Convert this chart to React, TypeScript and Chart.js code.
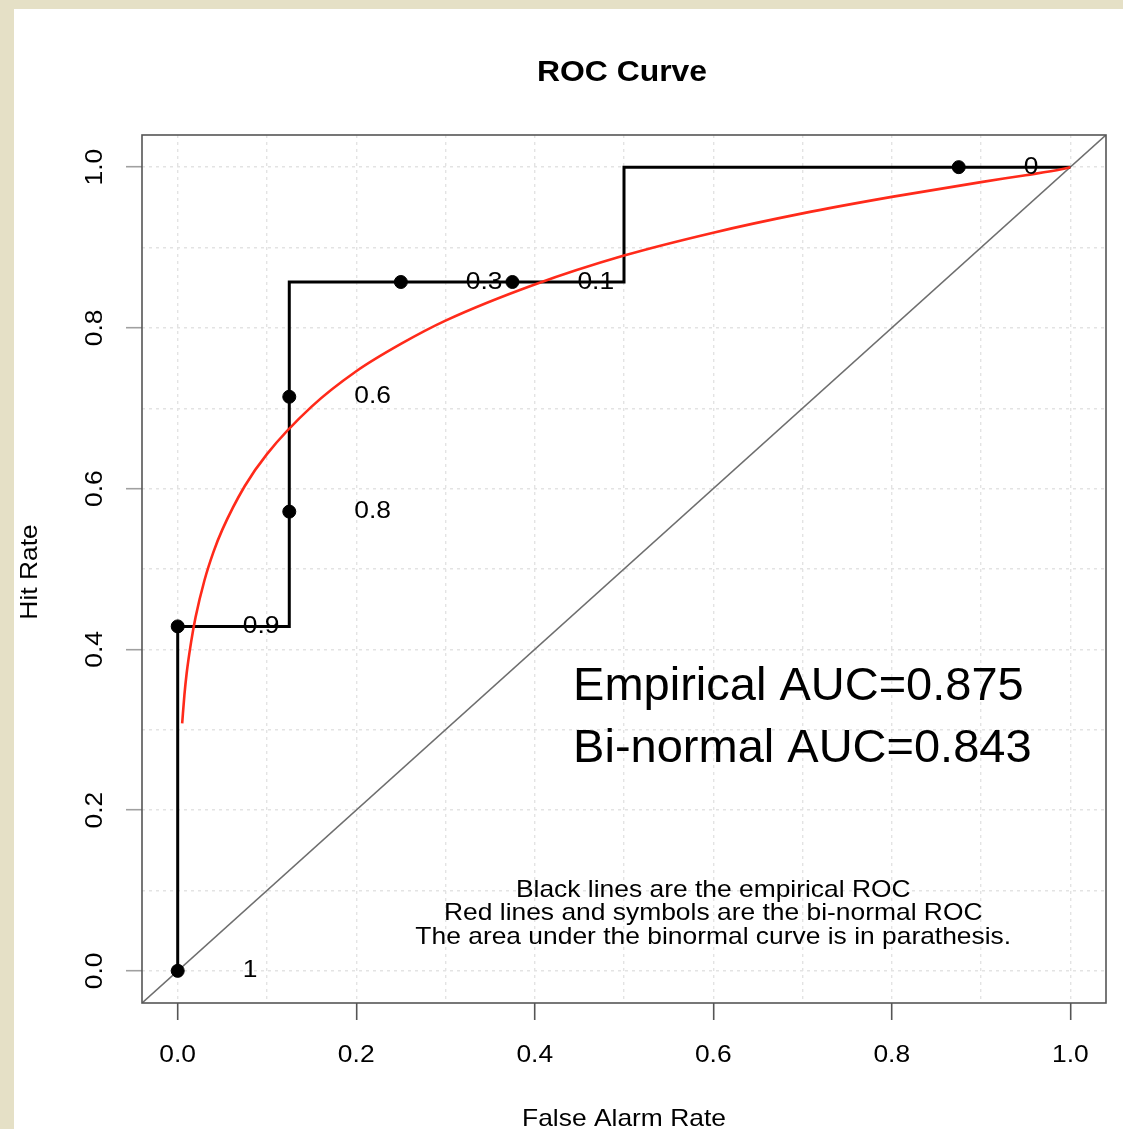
import React, { useEffect, useRef } from "react";
import { Chart, registerables } from "chart.js";

Chart.register(...registerables);

// ---- data ----
const AXIS_MIN = -0.04;
const AXIS_MAX = 1.04;
const tickValues = [0, 0.2, 0.4, 0.6, 0.8, 1.0];
const tickLabels = ["0.0", "0.2", "0.4", "0.6", "0.8", "1.0"];

// empirical ROC path (vertices of the step curve)
const empiricalFpr = [0, 0, 0.125, 0.125, 0.5, 0.5, 1.0];
const empiricalTpr = [0, 0.4286, 0.4286, 0.8571, 0.8571, 1.0, 1.0];

// threshold markers and their labels
const thresholdFpr = [0, 0, 0.125, 0.125, 0.25, 0.375, 0.875];
const thresholdTpr = [0, 0.4286, 0.5714, 0.7143, 0.8571, 0.8571, 1.0];
const thresholdLabels = ["1", "0.9", "0.8", "0.6", "0.3", "0.1", "0"];

// bi-normal ROC curve
const binormalFpr = [0.005, 0.0075, 0.01, 0.015, 0.02, 0.03, 0.04, 0.05, 0.075, 0.1, 0.15, 0.2, 0.25, 0.3, 0.4, 0.5, 0.6, 0.7, 0.8, 0.9, 0.95, 0.99, 1.0];
const binormalTpr = [0.308, 0.343, 0.37, 0.409, 0.44, 0.486, 0.521, 0.549, 0.603, 0.643, 0.702, 0.746, 0.78, 0.809, 0.854, 0.89, 0.9185, 0.9425, 0.963, 0.9814, 0.99, 0.9973, 1.0];

const chartTitle = "ROC Curve";
const xAxisTitle = "False Alarm Rate";
const yAxisTitle = "Hit Rate";
const noteLines = [
  "Black lines are the empirical ROC",
  "Red lines and symbols are the bi-normal ROC",
  "The area under the binormal curve is in parathesis.",
];
const aucLines = ["Empirical AUC=0.875", "Bi-normal AUC=0.843"];

const FONT = "'Liberation Sans', Arial, Helvetica, sans-serif";
const SX = 1.1;

function drawText(
  ctx: CanvasRenderingContext2D,
  text: string,
  x: number,
  y: number,
  font: string,
  align: CanvasTextAlign,
  sx = SX,
  rot = 0
) {
  ctx.save();
  ctx.translate(x, y);
  if (rot) ctx.rotate(rot);
  ctx.scale(sx, 1);
  ctx.font = font;
  ctx.textAlign = align;
  ctx.textBaseline = "middle";
  ctx.fillStyle = "#000";
  ctx.fillText(text, 0, 0);
  ctx.restore();
}

const isMajor = (v: number) => Math.round(v * 10) % 2 === 0;

const rocPlugin = {
  id: "rocDecor",
  beforeDraw(chart: any) {
    const ctx = chart.ctx as CanvasRenderingContext2D;
    ctx.save();
    ctx.fillStyle = "#e5e0c6";
    ctx.fillRect(0, 0, chart.width, chart.height);
    ctx.fillStyle = "#ffffff";
    ctx.fillRect(14, 9, chart.width - 14, chart.height - 9);
    ctx.restore();
  },
  afterDatasetsDraw(chart: any) {
    const ctx = chart.ctx as CanvasRenderingContext2D;
    const xs = chart.scales.x;
    const ys = chart.scales.y;
    const area = chart.chartArea;

    // threshold labels
    thresholdLabels.forEach((lab, i) => {
      const px = xs.getPixelForValue(thresholdFpr[i]) + 65;
      const py = ys.getPixelForValue(thresholdTpr[i]);
      drawText(ctx, lab, px, py, `24px ${FONT}`, "left");
    });

    // note text block
    const cx = xs.getPixelForValue(0.6);
    const cy = ys.getPixelForValue(0.071);
    noteLines.forEach((t, i) => {
      drawText(ctx, t, cx, cy + (i - 1) * 23.5, `24px ${FONT}`, "center");
    });

    // AUC text
    const ax = xs.getPixelForValue(0.443);
    aucLines.forEach((t, i) => {
      ctx.save();
      ctx.font = `47px ${FONT}`;
      ctx.textAlign = "left";
      ctx.textBaseline = "alphabetic";
      ctx.fillStyle = "#000";
      ctx.fillText(t, ax, ys.getPixelForValue(0.337 - i * 0.077));
      ctx.restore();
    });

    // plot box
    ctx.save();
    ctx.strokeStyle = "#555";
    ctx.lineWidth = 1.6;
    ctx.strokeRect(area.left, area.top, area.right - area.left, area.bottom - area.top);
    ctx.restore();
  },
  afterDraw(chart: any) {
    const ctx = chart.ctx as CanvasRenderingContext2D;
    const xs = chart.scales.x;
    const ys = chart.scales.y;
    const area = chart.chartArea;
    const midX = (area.left + area.right) / 2;
    const midY = (area.top + area.bottom) / 2;

    tickValues.forEach((v, i) => {
      drawText(ctx, tickLabels[i], xs.getPixelForValue(v), area.bottom + 52, `24px ${FONT}`, "center");
      drawText(ctx, tickLabels[i], area.left - 47, ys.getPixelForValue(v), `24px ${FONT}`, "center", SX, -Math.PI / 2);
    });

    drawText(ctx, chartTitle, midX - 2, 73, `bold 29px ${FONT}`, "center");
    drawText(ctx, xAxisTitle, midX, area.bottom + 116, `24px ${FONT}`, "center");
    drawText(ctx, yAxisTitle, 30, midY + 3, `24px ${FONT}`, "center", SX, -Math.PI / 2);
  },
};

export default function App() {
  const ref = useRef<HTMLCanvasElement | null>(null);

  useEffect(() => {
    const canvas = ref.current;
    if (!canvas) return;
    const toPts = (xs: number[], ys: number[]) => xs.map((x, i) => ({ x, y: ys[i] }));

    const chart = new Chart(canvas, {
      type: "scatter",
      data: {
        datasets: [
          {
            label: "Bi-normal ROC",
            type: "line",
            data: toPts(binormalFpr, binormalTpr),
            borderColor: "#ff2a1a",
            borderWidth: 2.6,
            pointRadius: 0,
            cubicInterpolationMode: "monotone",
            fill: false,
            order: 0,
          } as any,
          {
            label: "Thresholds",
            data: toPts(thresholdFpr, thresholdTpr),
            backgroundColor: "#000",
            borderColor: "#000",
            pointRadius: 6.5,
            pointHoverRadius: 6.5,
            order: 1,
          },
          {
            label: "Empirical ROC",
            type: "line",
            data: toPts(empiricalFpr, empiricalTpr),
            borderColor: "#000",
            borderWidth: 3,
            pointRadius: 0,
            tension: 0,
            fill: false,
            order: 2,
          } as any,
          {
            label: "Chance",
            type: "line",
            data: [
              { x: AXIS_MIN, y: AXIS_MIN },
              { x: AXIS_MAX, y: AXIS_MAX },
            ],
            borderColor: "#6e6e6e",
            borderWidth: 1.6,
            pointRadius: 0,
            fill: false,
            order: 3,
          } as any,
        ],
      },
      options: {
        animation: false,
        responsive: false,
        maintainAspectRatio: false,
        events: [],
        layout: { padding: { top: 135, right: 17, left: 0, bottom: 0 } },
        plugins: {
          legend: { display: false },
          title: { display: false },
          tooltip: { enabled: false },
        },
        scales: {
          x: {
            type: "linear",
            min: AXIS_MIN,
            max: AXIS_MAX,
            ticks: { stepSize: 0.1, includeBounds: false, display: false },
            grid: {
              color: "#e3e3e3",
              lineWidth: 1.4,
              tickLength: 17,
              tickWidth: 1.6,
              tickColor: (c: any) => (c.tick && isMajor(c.tick.value) ? "#555" : "rgba(0,0,0,0)"),
            },
            border: { display: false, dash: [3, 4] },
            afterFit: (s: any) => {
              s.height = 126;
            },
          },
          y: {
            type: "linear",
            min: AXIS_MIN,
            max: AXIS_MAX,
            ticks: { stepSize: 0.1, includeBounds: false, display: false },
            grid: {
              color: "#e3e3e3",
              lineWidth: 1.4,
              tickLength: 16,
              tickWidth: 1.6,
              tickColor: (c: any) => (c.tick && isMajor(c.tick.value) ? "#a0a0a0" : "rgba(0,0,0,0)"),
            },
            border: { display: false, dash: [3, 4] },
            afterFit: (s: any) => {
              s.width = 142;
            },
          },
        },
      } as any,
      plugins: [rocPlugin],
    });
    return () => chart.destroy();
  }, []);

  return (
    <div style={{ position: "absolute", left: 0, top: 0, width: 1123, height: 1129, overflow: "hidden" }}>
      <canvas ref={ref} width={1123} height={1129} style={{ display: "block", width: 1123, height: 1129 }} />
    </div>
  );
}
